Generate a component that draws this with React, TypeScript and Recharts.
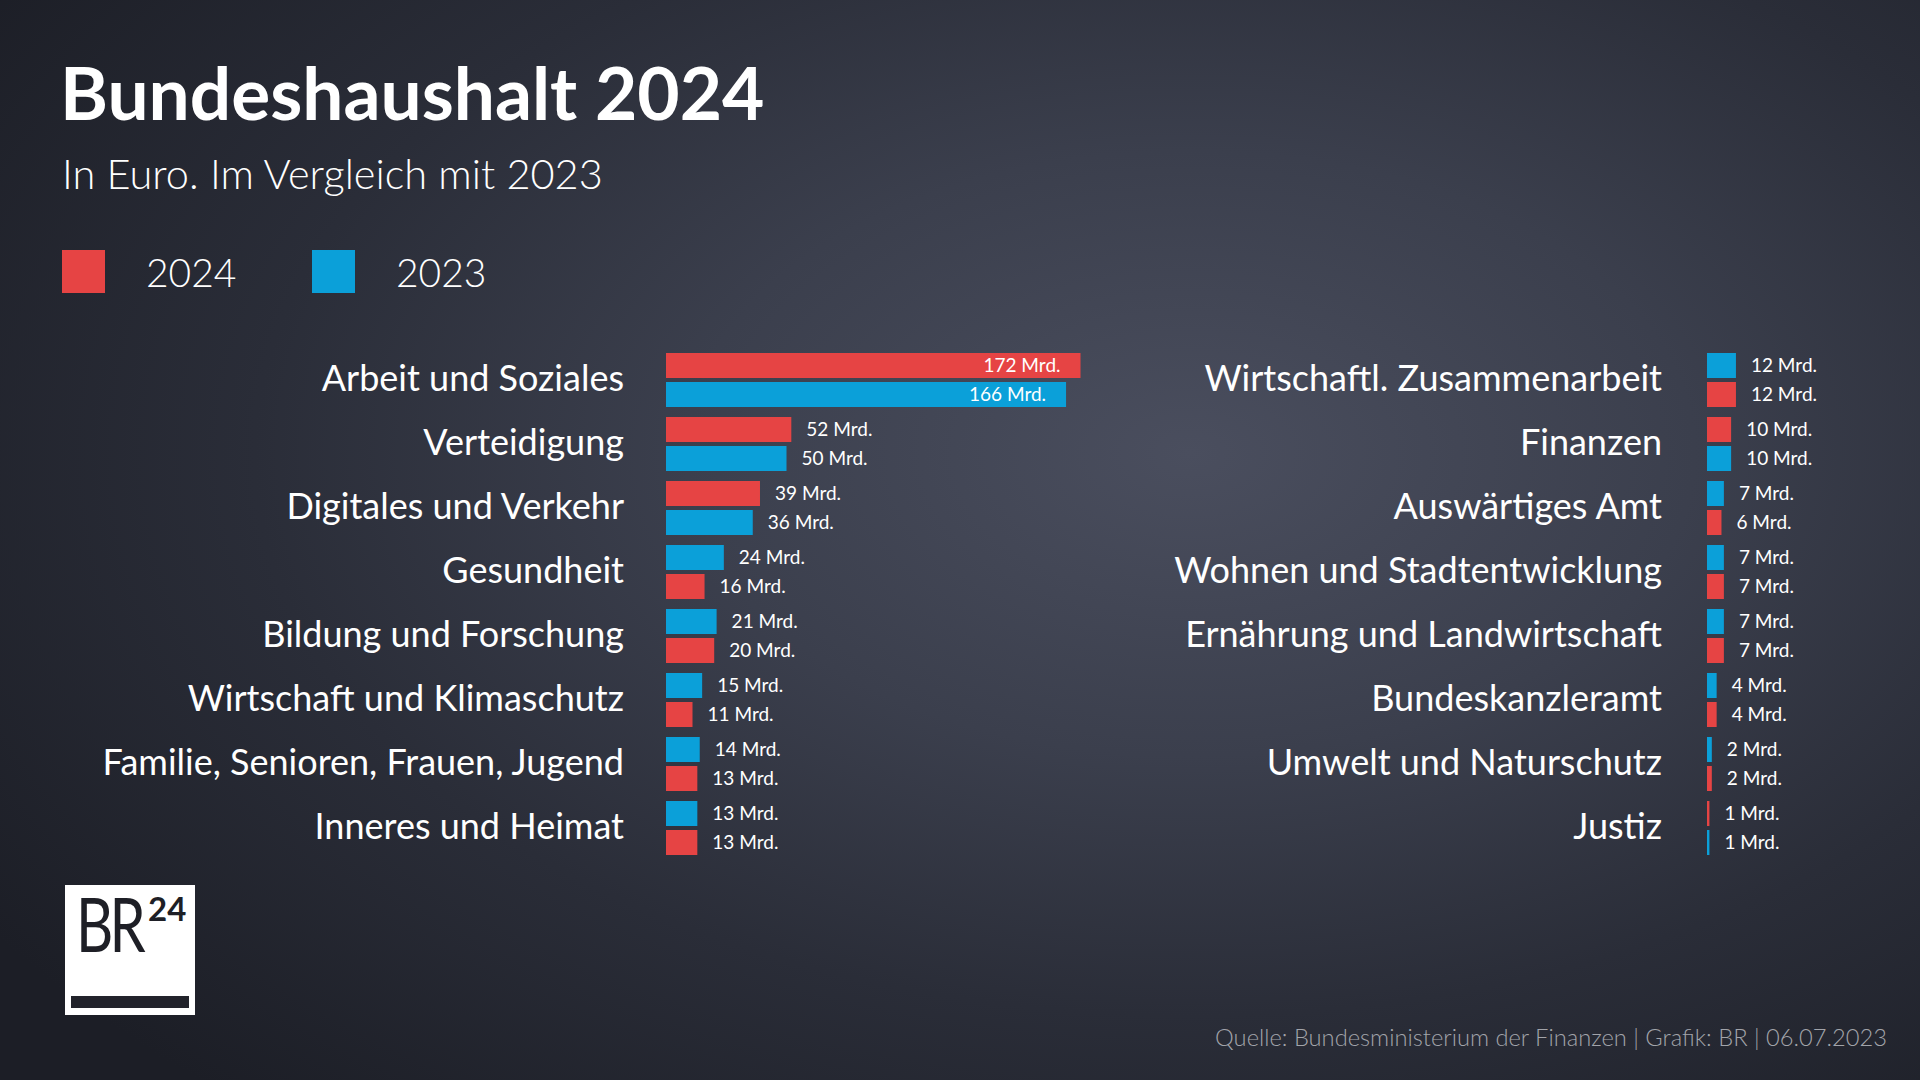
import React from "react";
import { Bar, BarChart, Cell, LabelList, XAxis, YAxis } from "recharts";

const COLOR_2024 = "#e64444";
const COLOR_2023 = "#0ba0d9";
const FONT = "Lato, 'Open Sans', sans-serif";

// Linke Spalte
const leftCategories = [
  "Arbeit und Soziales",
  "Verteidigung",
  "Digitales und Verkehr",
  "Gesundheit",
  "Bildung und Forschung",
  "Wirtschaft und Klimaschutz",
  "Familie, Senioren, Frauen, Jugend",
  "Inneres und Heimat",
];
const leftValues2024 = [172, 52, 39, 16, 20, 11, 13, 13];
const leftValues2023 = [166, 50, 36, 24, 21, 15, 14, 13];
// welches Jahr oben steht
const leftTopYear = ["2024", "2024", "2024", "2023", "2023", "2023", "2023", "2023"];

// Rechte Spalte
const rightCategories = [
  "Wirtschaftl. Zusammenarbeit",
  "Finanzen",
  "Auswärtiges Amt",
  "Wohnen und Stadtentwicklung",
  "Ernährung und Landwirtschaft",
  "Bundeskanzleramt",
  "Umwelt und Naturschutz",
  "Justiz",
];
const rightValues2024 = [12, 10, 6, 7, 7, 4, 2, 1];
const rightValues2023 = [12, 10, 7, 7, 7, 4, 2, 1];
const rightTopYear = ["2023", "2024", "2023", "2023", "2023", "2023", "2023", "2024"];

type Row = {
  name: string;
  top: number;
  bottom: number;
  topYear: string;
  bottomYear: string;
};

const buildRows = (
  categories: string[],
  v2024: number[],
  v2023: number[],
  topYear: string[]
): Row[] =>
  categories.map((name, i) => {
    const is24 = topYear[i] === "2024";
    return {
      name,
      top: is24 ? v2024[i] : v2023[i],
      bottom: is24 ? v2023[i] : v2024[i],
      topYear: topYear[i],
      bottomYear: is24 ? "2023" : "2024",
    };
  });

const leftRows = buildRows(leftCategories, leftValues2024, leftValues2023, leftTopYear);
const rightRows = buildRows(rightCategories, rightValues2024, rightValues2023, rightTopYear);

const yearColor = (year: string) => (year === "2024" ? COLOR_2024 : COLOR_2023);

const CategoryTick = (props: any) => {
  const { x, y, payload } = props;
  return (
    <text
      x={x}
      y={y}
      dy="0.3em"
      textAnchor="end"
      fill="#ffffff"
      fontSize={36}
      fontWeight={400}
      fontFamily={FONT}
    >
      {payload.value}
    </text>
  );
};

const ValueLabel = (props: any) => {
  const x = Number(props.x);
  const y = Number(props.y);
  const width = Number(props.width);
  const height = Number(props.height);
  const value = Number(props.value);
  const inside = value > 100;
  return (
    <text
      x={inside ? x + width - 20 : x + width + 15}
      y={y + height / 2}
      dy="0.36em"
      textAnchor={inside ? "end" : "start"}
      fill="#ffffff"
      fontSize={19}
      fontFamily={FONT}
    >
      {`${value} Mrd.`}
    </text>
  );
};

type PanelProps = {
  rows: Row[];
  width: number;
  axisWidth: number;
  maxValue: number;
  gap: number;
};

function Panel({ rows, width, axisWidth, maxValue, gap }: PanelProps) {
  return (
    <BarChart
      width={width}
      height={512}
      data={rows}
      layout="vertical"
      margin={{ top: 0, right: 0, bottom: 0, left: 0 }}
      barSize={25}
      barGap={4}
    >
      <XAxis type="number" domain={[0, maxValue]} hide />
      <YAxis
        type="category"
        dataKey="name"
        width={axisWidth}
        axisLine={false}
        tickLine={false}
        tickSize={0}
        tickMargin={gap}
        interval={0}
        tick={<CategoryTick />}
      />
      <Bar dataKey="top" isAnimationActive={false}>
        {rows.map((r) => (
          <Cell key={`t-${r.name}`} fill={yearColor(r.topYear)} />
        ))}
        <LabelList dataKey="top" content={<ValueLabel />} />
      </Bar>
      <Bar dataKey="bottom" isAnimationActive={false}>
        {rows.map((r) => (
          <Cell key={`b-${r.name}`} fill={yearColor(r.bottomYear)} />
        ))}
        <LabelList dataKey="bottom" content={<ValueLabel />} />
      </Bar>
    </BarChart>
  );
}

export default function App() {
  return (
    <div
      style={{
        position: "absolute",
        left: 0,
        top: 0,
        width: 1920,
        height: 1080,
        overflow: "hidden",
        fontFamily: FONT,
        color: "#ffffff",
        background:
          "radial-gradient(ellipse 75% 80% at 62% 42%, #4a4e5e 0%, #3b3f4d 35%, #2a2d38 65%, #1c1e26 100%)",
      }}
    >
      <div
        style={{
          position: "absolute",
          left: 60,
          top: 47,
          fontSize: 73,
          fontWeight: 700,
          lineHeight: "90px",
          whiteSpace: "nowrap",
        }}
      >
        Bundeshaushalt 2024
      </div>
      <div
        style={{
          position: "absolute",
          left: 62,
          top: 146,
          fontSize: 41.5,
          fontWeight: 300,
          lineHeight: "54px",
          whiteSpace: "nowrap",
        }}
      >
        In Euro. Im Vergleich mit 2023
      </div>

      {/* Legende */}
      <div style={{ position: "absolute", left: 62, top: 250, width: 43, height: 43, background: COLOR_2024 }} />
      <div style={{ position: "absolute", left: 146, top: 247, fontSize: 39, fontWeight: 300, lineHeight: "50px" }}>
        2024
      </div>
      <div style={{ position: "absolute", left: 312, top: 250, width: 43, height: 43, background: COLOR_2023 }} />
      <div style={{ position: "absolute", left: 396, top: 247, fontSize: 39, fontWeight: 300, lineHeight: "50px" }}>
        2023
      </div>

      <div style={{ position: "absolute", left: 0, top: 348 }}>
        <Panel rows={leftRows} width={1148} axisWidth={666} maxValue={200} gap={42} />
      </div>
      <div style={{ position: "absolute", left: 900, top: 348 }}>
        <Panel rows={rightRows} width={1000} axisWidth={807} maxValue={80} gap={45} />
      </div>

      {/* Logo */}
      <div
        style={{
          position: "absolute",
          left: 65,
          top: 885,
          width: 130,
          height: 130,
          background: "#ffffff",
        }}
      >
        <div
          style={{
            position: "absolute",
            left: 11,
            top: 0,
            fontSize: 76,
            fontWeight: 400,
            color: "#1e1f26",
            letterSpacing: -5,
            lineHeight: "76px",
            transform: "scaleX(0.76)",
            transformOrigin: "left top",
          }}
        >
          BR
        </div>
        <div
          style={{
            position: "absolute",
            left: 83,
            top: 6,
            fontSize: 33,
            fontWeight: 700,
            color: "#1e1f26",
            lineHeight: "34px",
          }}
        >
          24
        </div>
        <div
          style={{
            position: "absolute",
            left: 6,
            top: 111,
            width: 118,
            height: 12,
            background: "#22232b",
          }}
        />
      </div>

      <div
        style={{
          position: "absolute",
          right: 33,
          top: 1022,
          fontSize: 23.7,
          fontWeight: 300,
          color: "#a2a4aa",
          lineHeight: "30px",
          whiteSpace: "nowrap",
        }}
      >
        Quelle: Bundesministerium der Finanzen | Grafik: BR | 06.07.2023
      </div>
    </div>
  );
}
